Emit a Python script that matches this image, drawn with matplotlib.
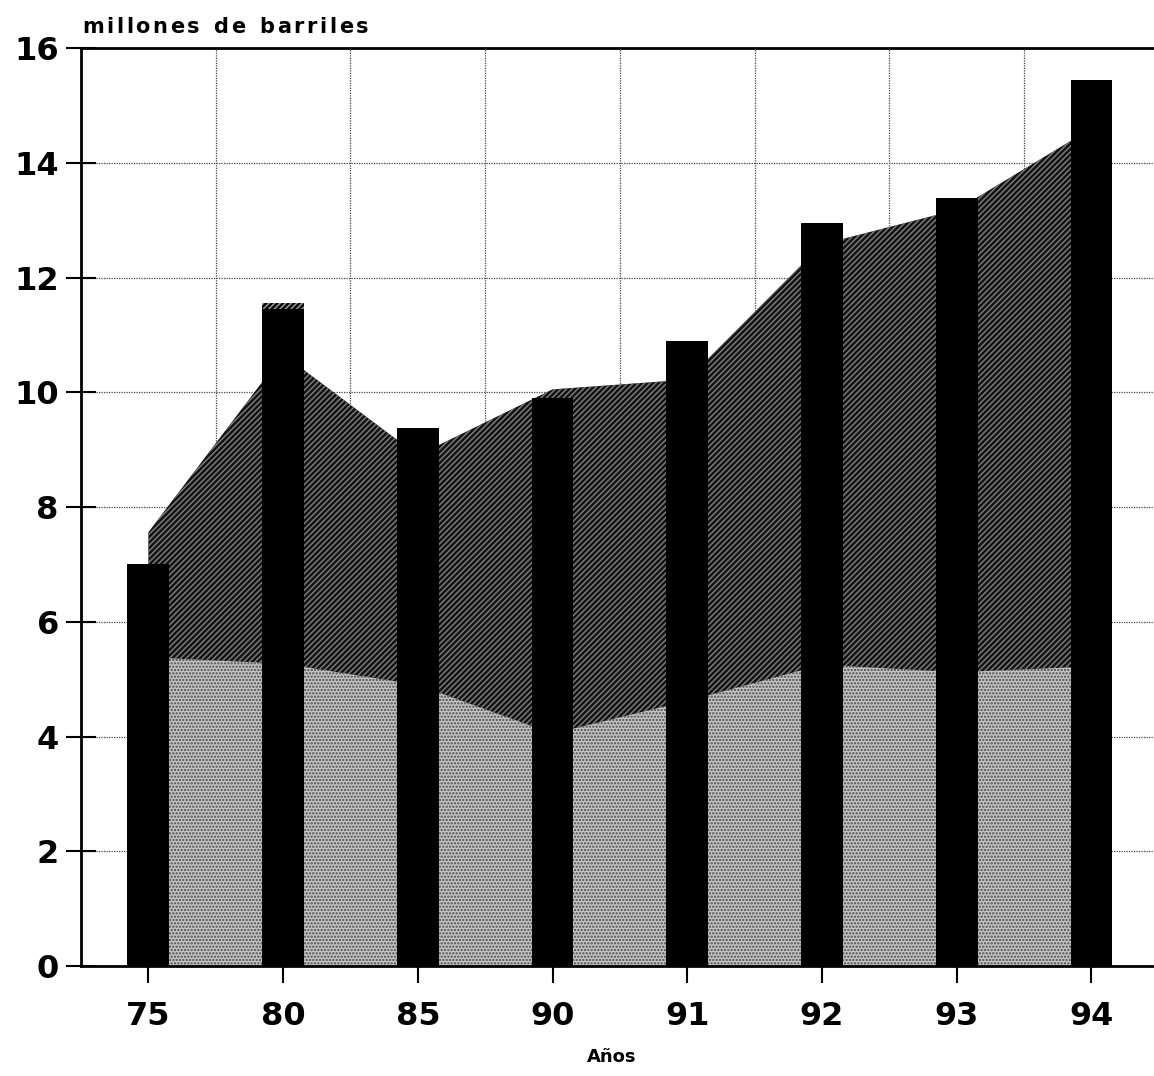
import numpy as np
import matplotlib
matplotlib.use('Agg')
import matplotlib.pyplot as plt

plt.rcParams['font.family'] = ['DejaVu Sans']
plt.rcParams['hatch.linewidth'] = 1.1

years = ['75', '80', '85', '90', '91', '92', '93', '94']
# black bars (millones de barriles)
bars = [7.0, 11.45, 9.37, 9.9, 10.9, 12.95, 13.38, 15.45]
bar_cap = [0, 0.1, 0, 0, 0, 0, 0, 0]
# stacked areas
lower = [5.38, 5.27, 4.9, 4.05, 4.62, 5.25, 5.12, 5.22]
total = [7.56, 10.66, 8.9, 10.05, 10.22, 12.58, 13.18, 14.6]

x = np.arange(len(years))

fig = plt.figure(figsize=(11.54, 10.76), dpi=100)
ax = fig.add_axes([0.0702, 0.1022, 0.934, 0.8532])

# grid
for yy in range(2, 16, 2):
    ax.axhline(yy, color='#444444', lw=0.9, ls=(0, (1, 1)), zorder=0)
for xx in np.arange(0.5, 7, 1):
    ax.axvline(xx, color='#444444', lw=0.9, ls=(0, (1, 1)), zorder=0)

ax.fill_between(x, 0, lower, facecolor='#c4c4c4', edgecolor='#4a4a4a',
                hatch='.....', lw=0, zorder=1)
ax.fill_between(x, lower, total, facecolor='#111111', edgecolor='#7a7a7a',
                hatch='//////', lw=0, zorder=1)

ax.bar(x, bars, width=0.31, color='black', zorder=2)
ax.bar(x, bar_cap, width=0.31, bottom=bars, facecolor='black',
       edgecolor='#9a9a9a', hatch='//////', lw=0, zorder=2)

ax.set_xlim(-0.5, 7.5)
ax.set_ylim(0, 16)
ax.set_yticks(range(0, 17, 2))
ax.set_xticks(x)
ax.set_xticklabels(years)

for s in ['left', 'top', 'bottom']:
    ax.spines[s].set_linewidth(2)
ax.spines['right'].set_visible(False)

ax.tick_params(axis='y', direction='inout', length=22, width=1.5,
               labelsize=23, pad=5)
ax.tick_params(axis='x', direction='out', length=12, width=1.5,
               labelsize=23, pad=13)
for lab in ax.get_xticklabels() + ax.get_yticklabels():
    lab.set_fontweight('bold')

# letter-spaced title, as in the printed original
renderer = fig.canvas.get_renderer()
title = 'millones de barriles'
px = 82
for ch in title:
    t = fig.text(px / 1154, 0.975, ch, fontsize=15, fontweight='bold',
                 ha='left', va='center')
    w = t.get_window_extent(renderer).width if ch != ' ' else 9
    px += w + 2.6

fig.text(0.53, 0.018, 'Años', fontsize=13, fontweight='bold',
         ha='center', va='center')

fig.savefig('out.png', dpi=100)
